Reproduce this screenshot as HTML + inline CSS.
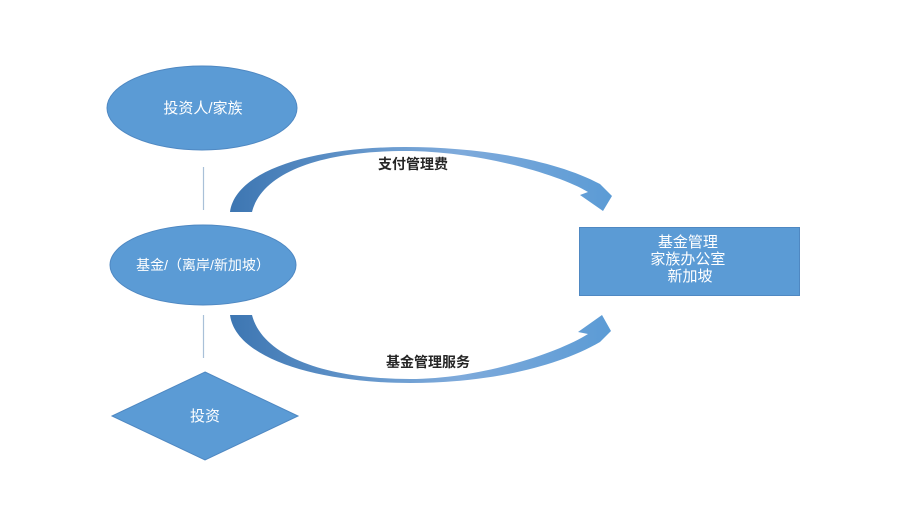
<!DOCTYPE html>
<html>
<head>
<meta charset="utf-8">
<style>
  html,body{margin:0;padding:0;background:#fff;}
  svg{display:block;}
  text{font-family:"Liberation Sans","Noto Sans CJK SC",sans-serif;}
</style>
</head>
<body>
<svg width="900" height="519" viewBox="0 0 900 519" xmlns="http://www.w3.org/2000/svg">
  <defs>
    <linearGradient id="gTop" x1="230" y1="0" x2="613" y2="0" gradientUnits="userSpaceOnUse">
      <stop offset="0" stop-color="#3d76b2"/>
      <stop offset="0.45" stop-color="#6f9fd2"/>
      <stop offset="0.6" stop-color="#7eaadb"/>
      <stop offset="1" stop-color="#5b9bd5"/>
    </linearGradient>
    <linearGradient id="gBot" x1="230" y1="0" x2="613" y2="0" gradientUnits="userSpaceOnUse">
      <stop offset="0" stop-color="#3d76b2"/>
      <stop offset="0.45" stop-color="#6f9fd2"/>
      <stop offset="0.6" stop-color="#7eaadb"/>
      <stop offset="1" stop-color="#5b9bd5"/>
    </linearGradient>
  </defs>

  <!-- connectors -->
  <line x1="203.5" y1="167" x2="203.5" y2="210" stroke="#a9c0d8" stroke-width="1.2"/>
  <line x1="203.5" y1="315" x2="203.5" y2="358" stroke="#a9c0d8" stroke-width="1.2"/>

  <!-- ellipse 1 -->
  <ellipse cx="202" cy="108" rx="95" ry="42" fill="#5b9bd5" stroke="#4f88c2" stroke-width="1"/>
  <text x="203" y="113" fill="#fff" font-size="15" text-anchor="middle">投资人/家族</text>

  <!-- ellipse 2 -->
  <ellipse cx="203" cy="265" rx="93" ry="40" fill="#5b9bd5" stroke="#4f88c2" stroke-width="1"/>
  <text x="203" y="270" fill="#fff" font-size="14" text-anchor="middle">基金/（离岸/新加坡）</text>

  <!-- diamond -->
  <polygon points="205,372 298,416 205,460 112,416" fill="#5b9bd5" stroke="#4f88c2" stroke-width="1"/>
  <text x="205" y="421" fill="#fff" font-size="15" text-anchor="middle">投资</text>

  <!-- rectangle -->
  <rect x="579.5" y="227.5" width="220" height="68" fill="#5b9bd5" stroke="#4f88c2" stroke-width="1"/>
  <text fill="#fff" font-size="15" text-anchor="middle">
    <tspan x="690" y="247">基金管理</tspan>
    <tspan x="690" y="264">家族办公室</tspan>
    <tspan x="690" y="281">新加坡</tspan>
  </text>

  <!-- top curved arrow -->
  <path d="M230,212 C236,168 320,147 405,147 C480,147 555,160 600,184 L612,196 L603,211 L580,195 L588,192 C558,174 478,151 405,151 C322,151 262,172 252,212 Z" fill="url(#gTop)"/>
  <text x="413" y="169" fill="#262626" font-size="14" font-weight="bold" text-anchor="middle">支付管理费</text>

  <!-- bottom curved arrow -->
  <path d="M230,315 C236,360 322,383 410,383 C485,383 555,368 600,342 L611,331 L602,315 L578,332 L588,334 C558,353 480,379 410,379 C330,379 263,358 252,315 Z" fill="url(#gBot)"/>
  <text x="428" y="367" fill="#262626" font-size="14" font-weight="bold" text-anchor="middle">基金管理服务</text>
</svg>
</body>
</html>
